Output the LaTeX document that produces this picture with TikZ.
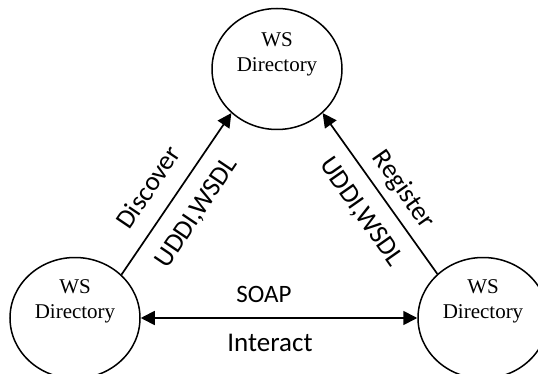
\documentclass[tikz,border=0pt]{standalone}
\usepackage{fontspec}
\setmainfont{Liberation Serif}
\newfontfamily\labelfont{Carlito}
\usetikzlibrary{shapes.geometric,arrows.meta}
\tikzset{
  dirnode/.style={ellipse,draw,line width=1.5pt,minimum width=130pt,minimum height=121pt,inner sep=0pt},
  dirtext/.style={align=center,font=\fontsize{21}{25}\selectfont,inner sep=0pt},
  tip/.tip={Triangle[length=14pt,width=14pt]},
  link/.style={line width=1.7pt,-tip},
  bothlink/.style={line width=1.7pt,tip-tip},
  lbl/.style={font=\labelfont\fontsize{27}{29}\selectfont,inner sep=0pt}
}
\begin{document}
\begin{tikzpicture}[x=1pt,y=-1pt]
\useasboundingbox (0,0) rectangle (538,374);
% the three directories
\node[dirnode] (top) at (277,69) {};
\node[dirnode] (bl) at (75,318) {};
\node[dirnode] (br) at (483,318) {};
\node[dirtext] (toptxt) at (277,54) {WS\\Directory};
\node[dirtext] (bltxt) at (75,301) {WS\\Directory};
\node[dirtext] (brtxt) at (483,301) {WS\\Directory};
% connectors
\draw[link] (bl.43) -- (top.224);
\draw[link] (br.136) -- (top.316);
\draw[bothlink] (bl.east) -- (br.west);
% labels
\node[lbl,rotate=56] (discover) at (148,187) {Discover};
\node[lbl,rotate=56] (uddil) at (197,213) {UDDI,WSDL};
\node[lbl,rotate=-55] (register) at (403,190) {Register};
\node[lbl,rotate=-55] (uddir) at (361,212) {UDDI,WSDL};
\node[lbl,font=\labelfont\fontsize{25}{27}\selectfont] (soap) at (264,294) {SOAP};
\node[lbl] (interact) at (270,343) {Interact};
\end{tikzpicture}
\end{document}
